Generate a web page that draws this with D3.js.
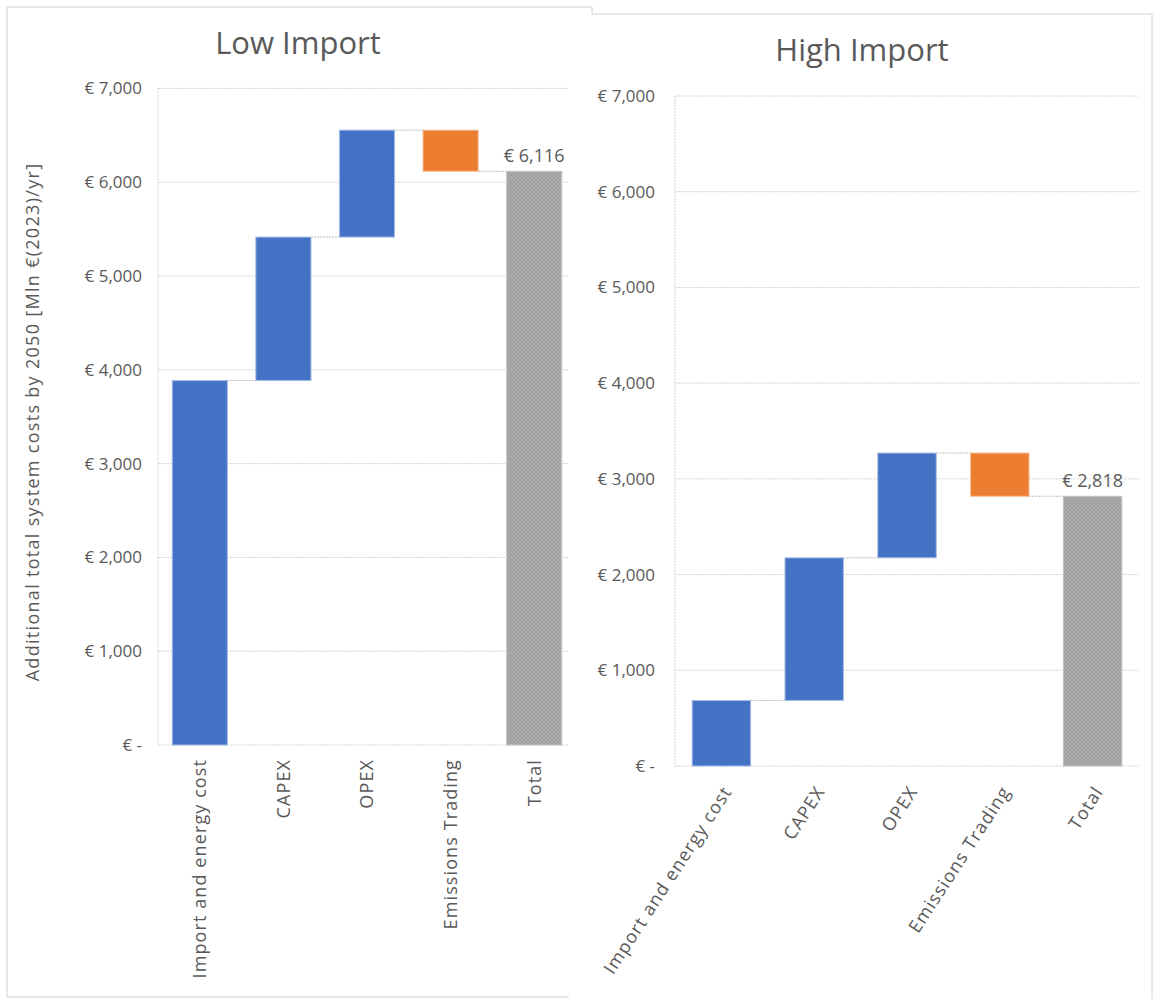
<!DOCTYPE html>
<html>
<head>
<meta charset="utf-8">
<script src="https://cdn.jsdelivr.net/npm/d3@7"></script>
<style>
  html, body { margin: 0; padding: 0; background: #fff; }
  text { font-family: "Open Sans", "Lato", sans-serif; fill: #595959; }
</style>
</head>
<body>
<svg id="chart" width="1157" height="999"></svg>
<script>
// Cost components per scenario (Mln €(2023)/yr); the Total bar is their sum
const categories = ["Import and energy cost", "CAPEX", "OPEX", "Emissions Trading", "Total"];
const lowImportValues = [3885, 1530, 1140, -439];
const highImportValues = [685, 1490, 1095, -452];
const yTickValues = [0, 1000, 2000, 3000, 4000, 5000, 6000, 7000];
const scenarioTitles = ["Low Import", "High Import"];
const yAxisTitle = "Additional total system costs by 2050 [Mln €(2023)/yr]";

const svg = d3.select("#chart");
svg.append("rect").attr("width", 1157).attr("height", 999).attr("fill", "#fff");

// Grainy grey fill for the total bar
const defs = svg.append("defs");
const pat = defs.append("pattern").attr("id", "totalFill")
  .attr("width", 4).attr("height", 4).attr("patternUnits", "userSpaceOnUse");
pat.append("rect").attr("width", 4).attr("height", 4).attr("fill", "#ababab");
[[0,0],[2,1],[1,2],[3,3]].forEach(([px, py]) =>
  pat.append("rect").attr("x", px).attr("y", py).attr("width", 1).attr("height", 1).attr("fill", "#959595"));

const euro = d => d === 0 ? "€ -" : "€ " + d3.format(",")(d);

function waterfall(values) {
  let run = 0;
  const steps = values.map((v, i) => {
    const start = run; run += v;
    return { cat: categories[i], start, end: run, kind: v < 0 ? "neg" : "pos" };
  });
  steps.push({ cat: categories[categories.length - 1], start: 0, end: run, kind: "total" });
  return steps;
}

function drawPanel(g, cfg) {
  const { values, title, x0, x1, yTop, yBottom, titleX, titleY, tickX, padding, labelMode, showYTitle } = cfg;
  const steps = waterfall(values);
  const x = d3.scaleBand().domain(categories).range([x0, x1]).paddingInner(padding).paddingOuter(padding / 2);
  const y = d3.scaleLinear().domain([0, 7000]).range([yBottom, yTop]);

  // gridlines
  g.selectAll(".grid").data(yTickValues).join("line")
    .attr("x1", x0).attr("x2", x1)
    .attr("y1", d => y(d)).attr("y2", d => y(d))
    .attr("stroke", "#d4d4d4").attr("stroke-width", 1).attr("stroke-dasharray", "2,1");
  // vertical axis line
  g.append("line").attr("x1", x0).attr("x2", x0).attr("y1", y(7000)).attr("y2", y(0))
    .attr("stroke", "#d4d4d4").attr("stroke-dasharray", "2,1");

  // y tick labels
  const yAxis = d3.axisLeft(y).tickValues(yTickValues).tickFormat(euro).tickSize(0).tickPadding(0);
  const ya = g.append("g").attr("transform", `translate(${tickX},0)`).call(yAxis);
  ya.select(".domain").remove();
  ya.selectAll("text").attr("font-size", 17).attr("fill", "#595959")
    .style("font-family", '"Open Sans", sans-serif');

  // connectors between consecutive bars
  for (let i = 0; i < steps.length - 1; i++) {
    const lvl = steps[i].end;
    g.append("line")
      .attr("x1", x(steps[i].cat) + x.bandwidth()).attr("x2", x(steps[i + 1].cat))
      .attr("y1", y(lvl)).attr("y2", y(lvl))
      .attr("stroke", "#bdbdbd").attr("stroke-width", 1).attr("stroke-dasharray", "2,1");
  }

  // bars
  const fill = { pos: "#4472C4", neg: "#ED7D31", total: "url(#totalFill)" };
  const edge = { pos: "#a9bde6", neg: "#f6c19b", total: "#c4c4c4" };
  g.selectAll(".bar").data(steps).join("rect")
    .attr("x", d => x(d.cat)).attr("width", x.bandwidth())
    .attr("y", d => y(Math.max(d.start, d.end)))
    .attr("height", d => Math.abs(y(d.start) - y(d.end)))
    .attr("fill", d => fill[d.kind]).attr("stroke", d => edge[d.kind]).attr("stroke-width", 1);

  // total value label
  const tot = steps[steps.length - 1];
  g.append("text").attr("x", x(tot.cat) + x.bandwidth() / 2).attr("y", y(tot.end) - 9)
    .attr("text-anchor", "middle").attr("font-size", 18).text(euro(Math.round(tot.end)));

  // category labels
  const lab = g.selectAll(".cat").data(categories).join("text")
    .attr("font-size", 18).attr("letter-spacing", 1.1)
    .attr("text-anchor", "end").attr("dy", "0.35em").text(d => d);
  if (labelMode === "vertical") {
    lab.attr("transform", d => `translate(${x(d) + x.bandwidth() / 2},${yBottom + 14}) rotate(-90)`);
  } else {
    lab.attr("transform", d => `translate(${x(d) + x.bandwidth() / 2 + 6},${yBottom + 22}) rotate(-57)`);
  }

  // title
  g.append("text").attr("x", titleX).attr("y", titleY).attr("text-anchor", "middle")
    .attr("font-size", 31).text(title);

  if (showYTitle) {
    g.append("text").attr("transform", `translate(33,422) rotate(-90)`)
      .attr("text-anchor", "middle").attr("dy", "0.35em").attr("font-size", 18)
      .attr("letter-spacing", 1.3).text(yAxisTitle);
  }
}

// Left panel frame
svg.append("path").attr("d", "M7,997 V7 H592 V14").attr("fill", "none").attr("stroke", "#d0d0d0");
svg.append("line").attr("x1", 7).attr("x2", 592).attr("y1", 997).attr("y2", 997).attr("stroke", "#d0d0d0");

const left = svg.append("g");
drawPanel(left, {
  values: lowImportValues, title: scenarioTitles[0],
  x0: 158, x1: 576, yTop: 88.4, yBottom: 745,
  titleX: 298, titleY: 54, tickX: 142, padding: 0.34,
  labelMode: "vertical", showYTitle: true
});

// Right panel sits on top of the left one
const right = svg.append("g");
right.append("rect").attr("x", 569).attr("y", 14).attr("width", 584).attr("height", 985).attr("fill", "#fff");
right.append("path").attr("d", "M592,14 H1152 V999").attr("fill", "none").attr("stroke", "#d0d0d0");
drawPanel(right, {
  values: highImportValues, title: scenarioTitles[1],
  x0: 675, x1: 1139, yTop: 96, yBottom: 766,
  titleX: 862, titleY: 61, tickX: 655, padding: 0.37,
  labelMode: "angled", showYTitle: false
});
</script>
</body>
</html>
